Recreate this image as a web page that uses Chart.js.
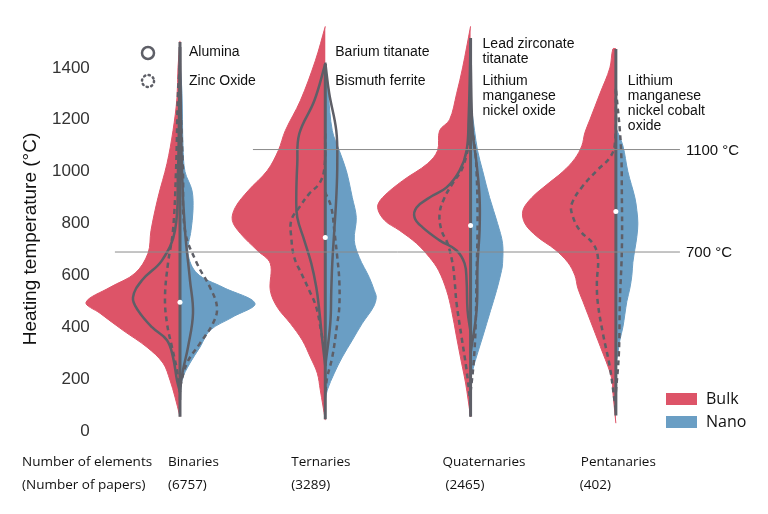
<!DOCTYPE html>
<html>
<head>
<meta charset="utf-8">
<script src="https://cdn.jsdelivr.net/npm/chart.js@4.4.1/dist/chart.umd.min.js"></script>
<style>
  html, body { margin: 0; padding: 0; background: #fff; }
  #wrap { width: 768px; height: 514px; position: relative; }
</style>
</head>
<body>
<div id="wrap"><canvas id="chart"></canvas></div>
<script>
/* Split violins: bulk (left, red) vs nano (right, blue), heating temperature per number of elements */

const categories = ['Binaries', 'Ternaries', 'Quaternaries', 'Pentanaries'];
const paperCounts = ['(6757)', '(3289)', '(2465)', '(402)'];
const yTickValues = [0, 200, 400, 600, 800, 1000, 1200, 1400];

// violin outlines: temperature (°C) and half-width density (relative units)
const binBulkT = [55, 131, 196, 262, 323, 388, 454, 496, 554, 608, 685, 773, 900, 1031, 1158, 1285, 1400, 1504];
const binBulkD = [0, 5, 10, 17, 33, 57, 80, 94, 70, 45, 32, 29, 22, 13, 7, 3, 2, 0];
const binNanoT = [100, 196, 262, 323, 388, 440, 492, 554, 608, 685, 773, 850, 927, 1000, 1100, 1300, 1420];
const binNanoD = [0, 2, 10, 20, 30, 53, 75, 43, 17, 8, 11, 13, 12, 5, 3, 2, 0];

const terBulkT = [42, 158, 223, 285, 350, 415, 477, 542, 646, 696, 762, 812, 862, 927, 1004, 1081, 1158, 1273, 1427, 1560];
const terBulkD = [0, 5, 8, 15, 23, 35, 48, 55, 55, 68, 85, 93, 90, 77, 58, 47, 40, 25, 10, 0];
const terNanoT = [120, 158, 223, 285, 350, 415, 477, 515, 542, 592, 669, 735, 823, 900, 1004, 1081, 1158, 1300, 1420];
const terNanoD = [0, 2, 9, 17, 27, 37, 48, 51, 49, 44, 34, 29, 31, 27, 21, 14, 7, 3, 0];

const quaBulkT = [54, 185, 262, 362, 465, 542, 619, 669, 723, 773, 812, 862, 900, 965, 1031, 1081, 1158, 1200, 1300, 1400, 1560];
const quaBulkD = [0, 5, 9, 14, 19, 24, 32, 41, 54, 71, 86, 93, 88, 68, 43, 33, 31, 21, 14, 8, 0];
const quaNanoT = [200, 262, 362, 465, 542, 619, 646, 723, 800, 900, 1004, 1081, 1158, 1273];
const quaNanoD = [0, 4, 12, 20, 26, 31, 32, 32, 27, 19, 12, 7, 4, 0];

const penBulkT = [30, 150, 200, 250, 300, 350, 400, 450, 500, 550, 600, 650, 700, 750, 800, 850, 900, 950, 1000, 1050, 1100, 1150, 1200, 1300, 1400, 1473, 1474];
const penBulkD = [0, 3, 4, 8, 13, 18, 23, 28, 33, 38, 41, 48, 61, 79, 91, 93, 84, 69, 53, 41, 34, 31, 26, 16, 6, 3, 0];
const penNanoT = [250, 300, 350, 400, 450, 500, 550, 600, 650, 700, 750, 800, 850, 900, 1000, 1100, 1170];
const penNanoD = [0, 2, 4, 7, 9, 11, 14, 16, 17, 19, 21, 22, 21, 19, 12, 7, 0];

// single-material distributions (solid = first material, dashed = second)
const aluBulkT = [150, 196, 285, 350, 400, 465, 515, 581, 658, 773, 1000, 1200, 1480];
const aluBulkD = [0, 3, 7, 13, 28, 42, 47, 38, 18, 5, 2, 1, 0];
const aluNanoT = [120, 170, 235, 323, 454, 581, 773, 1000, 1480];
const aluNanoD = [0, 0.5, 3, 8, 13, 10, 5, 2, 0];
const znoBulkT = [150, 235, 323, 415, 515, 646, 773, 1000, 1300, 1420];
const znoBulkD = [0, 3, 8, 13, 15, 12, 7, 4, 2, 0];
const znoNanoT = [170, 262, 338, 415, 477, 554, 646, 773, 1000, 1300];
const znoNanoD = [0, 7, 20, 33, 37, 30, 17, 5, 3, 0];

const btoBulkT = [250, 350, 465, 554, 646, 735, 823, 900, 1031, 1146, 1273, 1415];
const btoBulkD = [0, 3, 6, 9, 14, 21, 28, 29, 28, 26, 11, 0];
const btoNanoT = [250, 415, 542, 646, 773, 900, 1031, 1158, 1300, 1420];
const btoNanoD = [0, 5, 6, 7, 9, 11, 12, 11, 4, 0];
const bfoBulkT = [290, 380, 477, 542, 608, 669, 746, 812, 862, 915, 954, 1010, 1150];
const bfoBulkD = [0, 4, 9, 16, 24, 31, 34, 34, 26, 16, 6, 1, 0];
const bfoNanoT = [150, 208, 285, 415, 477, 581, 669, 773, 862, 920];
const bfoNanoD = [0, 2, 7, 12, 14, 14, 12, 9, 6, 0];

const pztBulkT = [380, 465, 581, 646, 696, 735, 785, 823, 862, 900, 939, 1004, 1081, 1200, 1500];
const pztBulkD = [0, 3, 4, 6, 14, 31, 48, 56, 54, 41, 24, 11, 4, 2, 0];
const pztNanoT = [300, 465, 646, 773, 900, 1031, 1158, 1450];
const pztNanoD = [0, 6, 7, 9, 9, 6, 2, 0];
const lmnoBulkT = [100, 235, 362, 492, 581, 646, 723, 773, 838, 900, 954, 1015, 1130];
const lmnoBulkD = [0, 4, 9, 14, 16, 18, 23, 29, 31, 26, 18, 8, 0];
const lmnoNanoT = [150, 260, 400, 600, 800, 1000, 1100, 1200];
const lmnoNanoD = [0, 3, 5, 6, 7, 6, 4, 0];

const nmcBulkT = [80, 108, 246, 377, 492, 569, 670, 723, 773, 838, 877, 940, 1004, 1054, 1108, 1330];
const nmcBulkD = [0, 1, 6, 13, 18, 19, 18, 23, 36, 44, 44, 34, 19, 6, 1, 0];
const nmcNanoT = [150, 300, 500, 700, 900, 1100, 1320];
const nmcNanoD = [0, 3, 4, 6, 6, 5, 0];

// inner line (range) and medians per category
const rangeLow = [55, 45, 55, 60];
const rangeHigh = [1500, 1415, 1515, 1473];
const medians = [496, 746, 792, 846];

// reference temperatures
const refTemps = [1085, 690];
const refLabels = ['1100 °C', '700 °C'];
const refFrom = [1.502, 0.552];
const refTo = [4.441, 4.441];

const solidNames = [['Alumina'], ['Barium titanate'], ['Lead zirconate', 'titanate'], []];
const dashedNames = [['Zinc Oxide'], ['Bismuth ferrite'], ['Lithium', 'manganese', 'nickel oxide'], ['Lithium', 'manganese', 'nickel cobalt', 'oxide']];

const RED = '#dd5468';
const BLUE = '#6a9ec4';
const GREY = '#5e5f67';
const WIDTH_SCALE = 1 / 145.3; // density -> x units

const violins = [
  { cat: 0, side: -1, t: binBulkT, d: binBulkD }, { cat: 0, side: 1, t: binNanoT, d: binNanoD },
  { cat: 1, side: -1, t: terBulkT, d: terBulkD }, { cat: 1, side: 1, t: terNanoT, d: terNanoD },
  { cat: 2, side: -1, t: quaBulkT, d: quaBulkD }, { cat: 2, side: 1, t: quaNanoT, d: quaNanoD },
  { cat: 3, side: -1, t: penBulkT, d: penBulkD }, { cat: 3, side: 1, t: penNanoT, d: penNanoD },
];
const overlays = [
  { cat: 0, side: -1, dash: false, t: aluBulkT, d: aluBulkD }, { cat: 0, side: 1, dash: false, t: aluNanoT, d: aluNanoD },
  { cat: 0, side: -1, dash: true, t: znoBulkT, d: znoBulkD }, { cat: 0, side: 1, dash: true, t: znoNanoT, d: znoNanoD },
  { cat: 1, side: -1, dash: false, t: btoBulkT, d: btoBulkD }, { cat: 1, side: 1, dash: false, t: btoNanoT, d: btoNanoD },
  { cat: 1, side: -1, dash: true, t: bfoBulkT, d: bfoBulkD }, { cat: 1, side: 1, dash: true, t: bfoNanoT, d: bfoNanoD },
  { cat: 2, side: -1, dash: false, t: pztBulkT, d: pztBulkD }, { cat: 2, side: 1, dash: false, t: pztNanoT, d: pztNanoD },
  { cat: 2, side: -1, dash: true, t: lmnoBulkT, d: lmnoBulkD }, { cat: 2, side: 1, dash: true, t: lmnoNanoT, d: lmnoNanoD },
  { cat: 3, side: -1, dash: true, t: nmcBulkT, d: nmcBulkD }, { cat: 3, side: 1, dash: true, t: nmcNanoT, d: nmcNanoD },
];

function outline(center, side, temps, dens) {
  return temps.map((t, i) => ({ x: center + side * dens[i] * WIDTH_SCALE, y: t }));
}

const datasets = [];

violins.forEach(v => {
  const col = v.side < 0 ? RED : BLUE;
  datasets.push({
    data: outline(v.cat + 1, v.side, v.t, v.d),
    backgroundColor: col, borderColor: col, borderWidth: 1,
    fill: 'shape', tension: 0.35, pointRadius: 0, order: 5,
  });
});

overlays.forEach(o => {
  datasets.push({
    data: outline(o.cat + 1, o.side, o.t, o.d),
    borderColor: GREY, borderWidth: 2.5, borderDash: o.dash ? [5, 4] : [],
    fill: false, tension: 0.4, pointRadius: 0, order: 3,
  });
});

categories.forEach((c, i) => {
  datasets.push({
    data: [{ x: i + 1, y: rangeLow[i] }, { x: i + 1, y: rangeHigh[i] }],
    borderColor: GREY, borderWidth: 3, fill: false, pointRadius: 0, order: 2,
  });
});

datasets.push({
  data: medians.map((m, i) => ({ x: i + 1, y: m })),
  showLine: false, pointRadius: 2.5, pointBackgroundColor: '#fff', pointBorderWidth: 0, order: 1,
});

refTemps.forEach((t, i) => {
  datasets.push({
    data: [{ x: refFrom[i], y: t }, { x: refTo[i], y: t }],
    borderColor: '#8a8a8a', borderWidth: 1, fill: false, pointRadius: 0, order: 0,
  });
});

// texts, legend markers and axis title
const textPlugin = {
  id: 'texts',
  afterDraw(chart) {
    const { ctx } = chart;
    const x = chart.scales.x, y = chart.scales.y;
    ctx.save();
    ctx.fillStyle = '#111';
    ctx.textBaseline = 'middle';

    // y title
    ctx.save();
    ctx.translate(31, 239);
    ctx.rotate(-Math.PI / 2);
    ctx.textAlign = 'center';
    ctx.font = '19px "Liberation Sans", Arial, sans-serif';
    ctx.fillText('Heating temperature (°C)', 0, 0);
    ctx.restore();

    // material names
    ctx.textAlign = 'left';
    ctx.font = '14px "Liberation Sans", Arial, sans-serif';
    const nameDx = [9, 10, 12, 12];
    categories.forEach((c, i) => {
      const px = x.getPixelForValue(i + 1) + nameDx[i];
      const solidTop = solidNames[i].length > 1 ? 44 : 52;
      solidNames[i].forEach((s, k) => ctx.fillText(s, px, solidTop + k * 15));
      dashedNames[i].forEach((s, k) => ctx.fillText(s, px, 81 + k * 15));
    });

    // solid / dashed markers
    ctx.strokeStyle = GREY;
    ctx.lineWidth = 2.5;
    ctx.beginPath(); ctx.arc(148, 53, 6, 0, Math.PI * 2); ctx.stroke();
    ctx.setLineDash([1.2, 3.5]); ctx.lineCap = 'round';
    ctx.beginPath(); ctx.arc(148, 81, 6, 0, Math.PI * 2); ctx.stroke();
    ctx.setLineDash([]);

    // reference labels
    ctx.font = '15px "Liberation Sans", Arial, sans-serif';
    refTemps.forEach((t, i) => {
      ctx.fillText(refLabels[i], x.getPixelForValue(refTo[i]) + 6, y.getPixelForValue(t) + 1);
    });

    // bottom labels
    ctx.font = '13.5px "Open Sans", sans-serif';
    ctx.fillText('Number of elements', 22, 462);
    ctx.fillText('(Number of papers)', 22, 485);
    const labelDx = [-12, -34, -28, -35];
    const countDx = [-12, -34, -25, -36];
    categories.forEach((c, i) => {
      const cx = x.getPixelForValue(i + 1);
      ctx.fillText(c, cx + labelDx[i], 462);
      ctx.fillText(paperCounts[i], cx + countDx[i], 485);
    });

    // bulk / nano legend
    ctx.fillStyle = RED; ctx.fillRect(666, 393, 31, 12);
    ctx.fillStyle = BLUE; ctx.fillRect(666, 416, 31, 12);
    ctx.fillStyle = '#111';
    ctx.font = '16px "Open Sans", sans-serif';
    ctx.fillText('Bulk', 706, 399);
    ctx.fillText('Nano', 706, 422);
    ctx.restore();
  }
};

new Chart(document.getElementById('chart'), {
  type: 'line',
  data: { datasets },
  options: {
    responsive: true,
    maintainAspectRatio: false,
    animation: false,
    layout: { padding: { left: 0, right: 8, top: 15, bottom: 83 } },
    elements: { line: { capBezierPoints: false } },
    plugins: { legend: { display: false }, tooltip: { enabled: false } },
    events: [],
    scales: {
      // chart area starts at x=40; labels mirrored inside, right-aligned near x=90
      x: { type: 'linear', min: 0.0365, max: 4.992, display: false },
      y: {
        type: 'linear', min: 0, max: 1576,
        afterBuildTicks: (s) => { s.ticks = yTickValues.map(v => ({ value: v })); },
        afterFit: (s) => { s.width = 40; },
        grid: { display: false, drawTicks: false },
        border: { display: false },
        ticks: {
          mirror: true, crossAlign: 'far', padding: 12, color: '#333',
          font: { family: '"Liberation Sans", Arial, sans-serif', size: 17 },
          callback: (v) => String(v),
        },
      },
    },
  },
  plugins: [textPlugin],
});
</script>
</body>
</html>
